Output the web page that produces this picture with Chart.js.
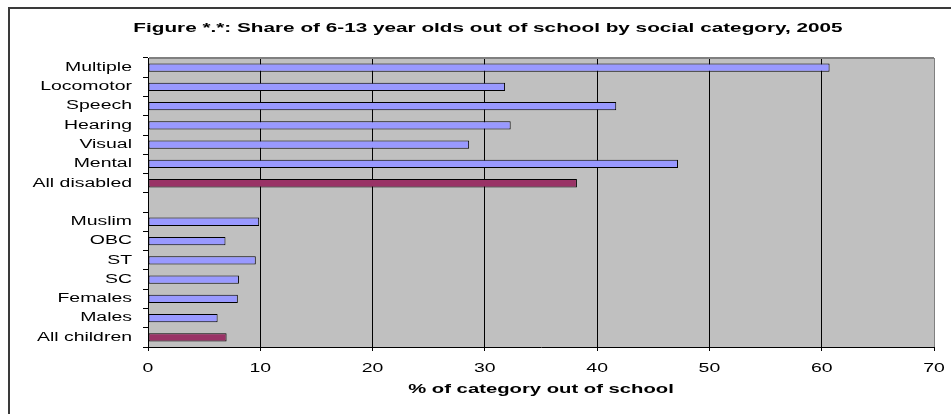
<!DOCTYPE html>
<html>
<head>
<meta charset="utf-8">
<script src="https://cdn.jsdelivr.net/npm/chart.js@4.4.1/dist/chart.umd.min.js"></script>
<style>
  body { margin: 0; background: #fff; }
  canvas { display: block; }
</style>
</head>
<body>
<canvas id="myChart" width="951" height="414"></canvas>
<script>
// categories, top to bottom (the empty one is the gap between the two groups)
var categories = ["Multiple", "Locomotor", "Speech", "Hearing", "Visual", "Mental", "All disabled", "",
    "Muslim", "OBC", "ST", "SC", "Females", "Males", "All children"];
// % of 6-13 year olds out of school
var outOfSchool = [60.7, 31.8, 41.7, 32.3, 28.6, 47.2, 38.2, null,
    9.9, 6.9, 9.6, 8.1, 8.0, 6.2, 7.0];
// the "all" rows get the darker colour
var totals = ["All disabled", "All children"];
var xMin = 0, xMax = 70, xStep = 10;

var chartTitle = "Figure *.*: Share of 6-13 year olds out of school by social category, 2005";
var axisTitle = "% of category out of school";

var FONT = "'Liberation Sans', Arial, sans-serif";
var WIDE = 1.62; // text in this chart is drawn stretched sideways

// stretch every label horizontally around its anchor point
var wideText = {
    id: 'wideText',
    beforeDraw: function (chart) {
        var ctx = chart.ctx;
        if (ctx._wide) return;
        var fill = ctx.fillText.bind(ctx);
        ctx.fillText = function (text, x, y) {
            ctx.save();
            ctx.translate(x, y);
            ctx.scale(WIDE, 1);
            fill(text, 0, 0);
            ctx.restore();
        };
        ctx._wide = true;
    }
};

// white page, grey plot area, frame lines and the heading
var frame = {
    id: 'frame',
    beforeDraw: function (chart) {
        var ctx = chart.ctx, a = chart.chartArea;
        ctx.save();
        ctx.fillStyle = '#fff';
        ctx.fillRect(0, 0, chart.width, chart.height);
        ctx.fillStyle = '#c0c0c0';
        ctx.fillRect(a.left, a.top, a.right - a.left, a.bottom - a.top);
        ctx.strokeStyle = '#3a3a3a';
        ctx.lineWidth = 2;
        ctx.beginPath();
        ctx.moveTo(9, chart.height);
        ctx.lineTo(9, 8);
        ctx.lineTo(chart.width, 8);
        ctx.stroke();
        ctx.restore();
    },
    afterDraw: function (chart) {
        var ctx = chart.ctx, a = chart.chartArea;
        ctx.save();
        ctx.strokeStyle = '#808080';
        ctx.lineWidth = 2;
        ctx.beginPath();
        ctx.moveTo(a.left + 1, a.top);
        ctx.lineTo(a.right, a.top);
        ctx.stroke();
        ctx.fillStyle = '#000';
        ctx.font = 'bold 12.8px ' + FONT;
        ctx.textAlign = 'center';
        ctx.textBaseline = 'middle';
        ctx.fillText(chartTitle, 488, 28);
        ctx.restore();
    }
};

var ctx = document.getElementById("myChart");

var myChart = new Chart(ctx, {
    type: 'bar',
    data: {
        labels: categories,
        datasets: [{
            data: outOfSchool,
            backgroundColor: categories.map(function (c) { return totals.indexOf(c) >= 0 ? '#993366' : '#9999ff'; }),
            borderColor: '#000',
            borderWidth: 1,
            borderSkipped: false,
            barPercentage: 0.43,
            categoryPercentage: 1
        }]
    },
    options: {
        indexAxis: 'y',
        responsive: false,
        animation: false,
        devicePixelRatio: 1,
        layout: { padding: { top: 58, right: 17, bottom: 0, left: 0 } },
        plugins: {
            legend: { display: false },
            tooltip: { enabled: false },
            title: { display: false }
        },
        scales: {
            x: {
                min: xMin,
                max: xMax,
                ticks: { stepSize: xStep, color: '#000', padding: 10, font: { family: FONT, size: 12 } },
                grid: {
                    color: function (c) { return c.tick && c.tick.value === xMax ? '#808080' : '#000'; },
                    tickColor: '#000',
                    tickLength: 4
                },
                border: { color: '#000' },
                title: {
                    display: true,
                    text: axisTitle,
                    color: '#000',
                    font: { family: FONT, size: 12.5, weight: 'bold' },
                    padding: { top: 0, bottom: 17 }
                },
                afterFit: function (s) { s.height = 67; }
            },
            y: {
                grid: { drawOnChartArea: false, offset: true, color: '#000', tickLength: 5 },
                border: { color: '#000' },
                ticks: { color: '#000', padding: 11, autoSkip: false, font: { family: FONT, size: 12 } },
                afterFit: function (s) { s.width = 148; }
            }
        }
    },
    plugins: [wideText, frame]
});
</script>
</body>
</html>
